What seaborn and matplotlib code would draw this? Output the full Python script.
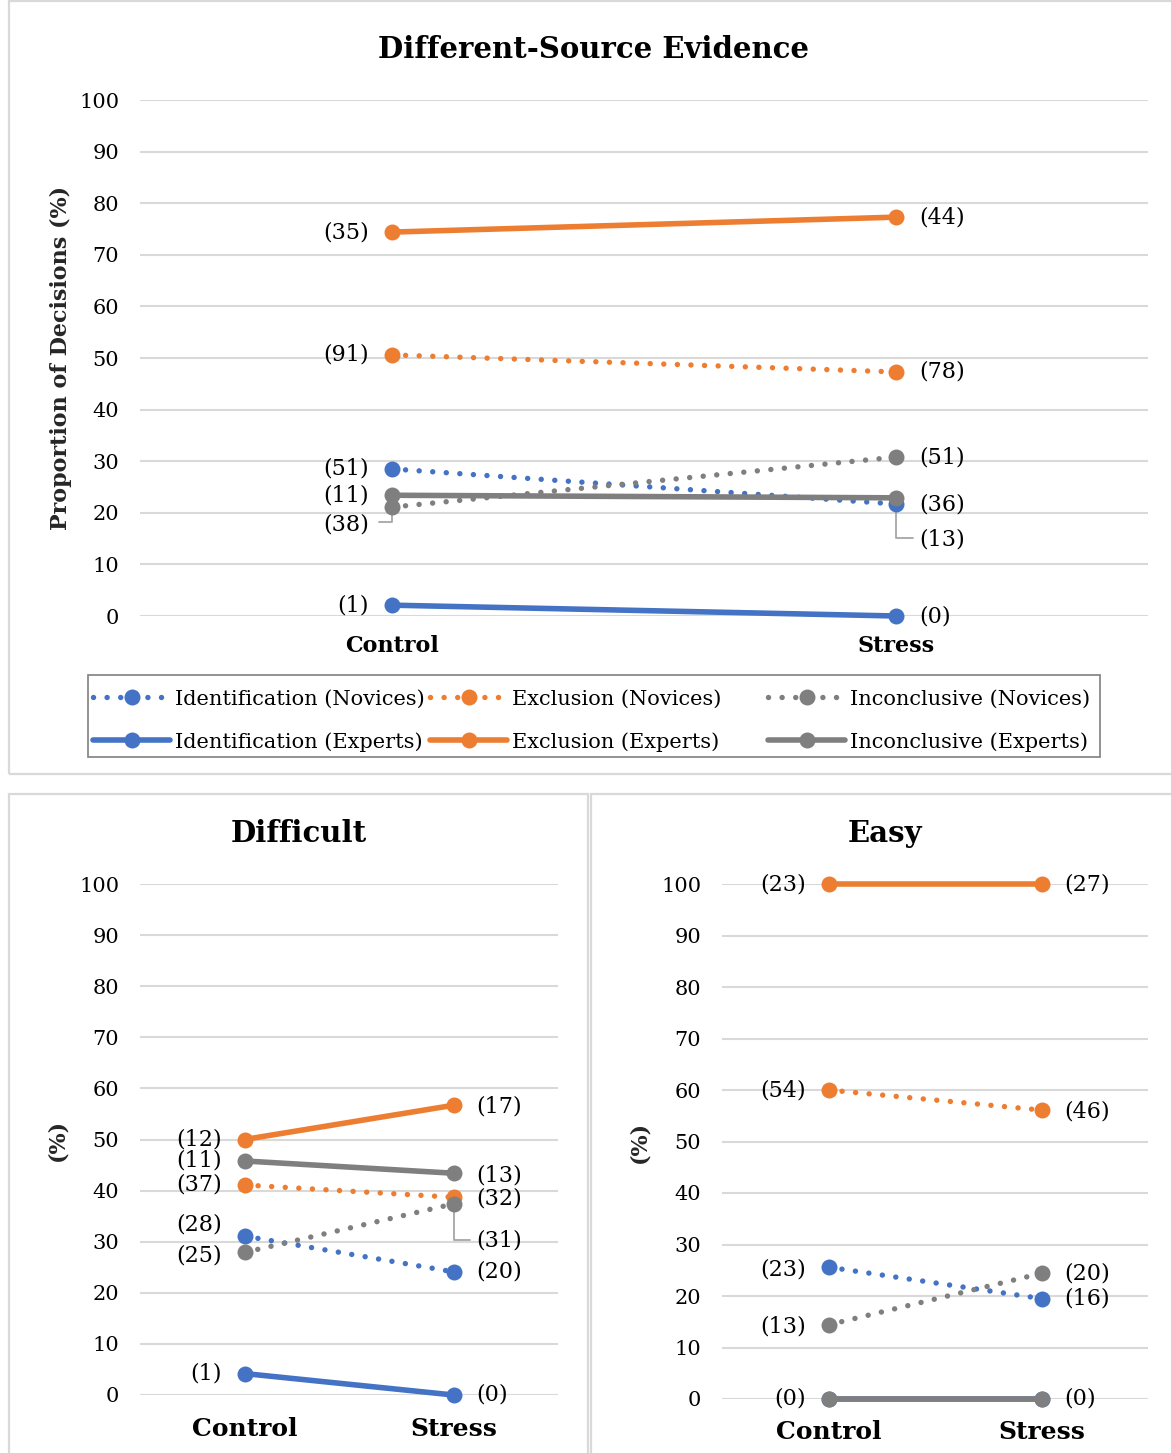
import pandas as pd
import matplotlib.pyplot as plt
import seaborn as sns
from matplotlib.patches import Rectangle

conditions = ['Control', 'Stress']
yticks = list(range(0, 101, 10))

# Different-Source Evidence (% of decisions) and counts in brackets
ds_ident_nov = [28.5, 21.7]
ds_excl_nov = [50.6, 47.3]
ds_incon_nov = [21.1, 30.8]
ds_ident_exp = [2.1, 0.0]
ds_excl_exp = [74.4, 77.3]
ds_incon_exp = [23.4, 22.9]
ds_ident_nov_n = [51, 36]
ds_excl_nov_n = [91, 78]
ds_incon_nov_n = [38, 51]
ds_ident_exp_n = [1, 0]
ds_excl_exp_n = [35, 44]
ds_incon_exp_n = [11, 13]

# Difficult
df_ident_nov = [31.1, 24.1]
df_excl_nov = [41.1, 38.7]
df_incon_nov = [27.9, 37.4]
df_ident_exp = [4.2, 0.0]
df_excl_exp = [50.0, 56.7]
df_incon_exp = [45.8, 43.4]
df_ident_nov_n = [28, 20]
df_excl_nov_n = [37, 32]
df_incon_nov_n = [25, 31]
df_ident_exp_n = [1, 0]
df_excl_exp_n = [12, 17]
df_incon_exp_n = [11, 13]

# Easy
ez_ident_nov = [25.6, 19.5]
ez_excl_nov = [60.0, 56.1]
ez_incon_nov = [14.4, 24.4]
ez_ident_exp = [0.0, 0.0]
ez_excl_exp = [100.0, 100.0]
ez_incon_exp = [0.0, 0.0]
ez_ident_nov_n = [23, 16]
ez_excl_nov_n = [54, 46]
ez_incon_nov_n = [13, 20]
ez_ident_exp_n = [None, None]
ez_excl_exp_n = [23, 27]
ez_incon_exp_n = [0, 0]

BLUE, ORANGE, GRAY = '#4472C4', '#ED7D31', '#7F7F7F'
series = [
    ('ident_nov', 'Identification (Novices)', BLUE, True),
    ('ident_exp', 'Identification (Experts)', BLUE, False),
    ('excl_nov', 'Exclusion (Novices)', ORANGE, True),
    ('excl_exp', 'Exclusion (Experts)', ORANGE, False),
    ('incon_nov', 'Inconclusive (Novices)', GRAY, True),
    ('incon_exp', 'Inconclusive (Experts)', GRAY, False),
]

def panel_data(prefix):
    g = globals()
    rows = []
    for key, label, color, dotted in series:
        for c, v, n in zip(conditions, g[f'{prefix}_{key}'], g[f'{prefix}_{key}_n']):
            rows.append({'series': key, 'label': label, 'cond': c, 'pct': v, 'n': n})
    return pd.DataFrame(rows)

sns.set_style('white')
plt.rcParams['font.family'] = ['DejaVu Serif']
plt.rcParams['text.color'] = 'black'
plt.rcParams['xtick.color'] = 'black'
plt.rcParams['ytick.color'] = 'black'

fig = plt.figure(figsize=(11.71, 14.53), dpi=100)
W, H = 1171, 1453

def fbox(x0, y0, x1, y1):
    # pixel box -> figure fraction [left, bottom, width, height]
    return [x0 / W, 1 - y1 / H, (x1 - x0) / W, (y1 - y0) / H]

def frame(x0, y0, x1, y1, color, lw):
    fig.patches.append(Rectangle((x0 / W, 1 - y1 / H), (x1 - x0) / W, (y1 - y0) / H,
                                 transform=fig.transFigure, fill=False,
                                 edgecolor=color, lw=lw))

# panel frames
for b in [(9, 1, 1175, 774), (9, 794, 588, 1460), (591, 794, 1175, 1460)]:
    frame(*b, '#D9D9D9', 1.6)

def draw(ax, prefix, ylabel, xfont, xpad, ypad, offsets, leaders):
    d = panel_data(prefix)
    order = ['ident_exp', 'ident_nov', 'excl_nov', 'incon_nov', 'excl_exp', 'incon_exp']
    for key in order:
        _, label, color, dotted = next(s for s in series if s[0] == key)
        sub = d[d.series == key]
        if dotted:
            sns.lineplot(data=sub, x='cond', y='pct', ax=ax, color=color, lw=3.9,
                         linestyle=(0, (0.01, 2.5)), dash_capstyle='round',
                         marker='o', markersize=11.5, markeredgewidth=0,
                         label=label, legend=False, clip_on=False)
        else:
            sns.lineplot(data=sub, x='cond', y='pct', ax=ax, color=color, lw=4,
                         marker='o', markersize=11.5, markeredgewidth=0,
                         label=label, legend=False, clip_on=False)
    ax.set_xlim(-0.5, 1.5)
    ax.set_ylim(0, 100)
    ax.set_yticks(yticks)
    ax.grid(axis='y', color='#D9D9D9', lw=1.5)
    ax.grid(axis='x', visible=False)
    ax.set_axisbelow(True)
    for s in ax.spines.values():
        s.set_visible(False)
    ax.tick_params(axis='y', length=0, pad=15, labelsize=15)
    ax.tick_params(axis='x', length=0, pad=xpad)
    for t in ax.get_xticklabels():
        t.set_fontweight('bold')
        t.set_fontsize(xfont)
    ax.set_xlabel('')
    ax.set_ylabel(ylabel, fontsize=16, fontweight='bold', labelpad=ypad)
    # bracketed counts
    for _, r in d.iterrows():
        if r['n'] is None or pd.isna(r['n']):
            continue
        i = conditions.index(r['cond'])
        dy = offsets.get((r['series'], i), 0)
        dx = -23 if i == 0 else 23
        ax.annotate(f"({int(r['n'])})", (i, r['pct']), xytext=(dx, -dy),
                    textcoords='offset pixels', ha='right' if i == 0 else 'left',
                    va='center', fontsize=16, annotation_clip=False)
    # leader lines
    for key, i, dy, dxend in leaders:
        v = d[(d.series == key) & (d.cond == conditions[i])]['pct'].iloc[0]
        px, py = ax.transData.transform((i, v))
        pts = [(px, py - 6), (px, py - dy), (px + dxend, py - dy)]
        inv = ax.transData.inverted()
        xs, ys = zip(*[inv.transform(p) for p in pts])
        ax.plot(xs, ys, color='#A6A6A6', lw=1.3, zorder=1)

ax1 = fig.add_axes(fbox(140, 100, 1148, 616))
draw(ax1, 'ds', 'Proportion of Decisions (%)', 16, 14, 5,
     {('incon_nov', 0): 17, ('incon_exp', 1): 42}, [('incon_nov', 0, 15, -13), ('incon_exp', 1, 40, 17)])

ax2 = fig.add_axes(fbox(140, 884, 558, 1395))
draw(ax2, 'df', '(%)', 18, 16, 8,
     {('ident_nov', 0): -12, ('incon_nov', 0): 3, ('excl_nov', 1): 1, ('incon_nov', 1): 37,
      ('excl_exp', 1): 1, ('incon_exp', 1): 2},
     [('incon_nov', 1, 36, 16)])

ax3 = fig.add_axes(fbox(722, 884, 1148, 1399))
draw(ax3, 'ez', '(%)', 18, 15, 8,
     {('excl_nov', 1): 1, ('incon_nov', 0): 2, ('ident_nov', 0): 2}, [])

# panel titles, centred over each panel frame
fig.text(594 / W, 1 - 49 / H, 'Different-Source Evidence', ha='center', va='center',
         fontsize=21, fontweight='bold')
fig.text(299 / W, 1 - 833 / H, 'Difficult', ha='center', va='center',
         fontsize=21, fontweight='bold')
fig.text(885 / W, 1 - 833 / H, 'Easy', ha='center', va='center',
         fontsize=21, fontweight='bold')

# legend: boxed, three fixed-width columns
frame(88, 675, 1100, 757, '#7F7F7F', 1.2)
h, l = ax1.get_legend_handles_labels()
lut = dict(zip(l, h))
for col, x0 in enumerate([84, 421, 759]):
    labs = [series[2 * col][1], series[2 * col + 1][1]]
    fig.legend([lut[k] for k in labs], labs, loc='upper left',
               bbox_to_anchor=(x0 / W, 1 - 680 / H), frameon=False,
               fontsize=15, handlelength=3.7, handletextpad=0.2,
               labelspacing=1.13, borderpad=0.45, borderaxespad=0)

fig.savefig('out.png', dpi=100)
